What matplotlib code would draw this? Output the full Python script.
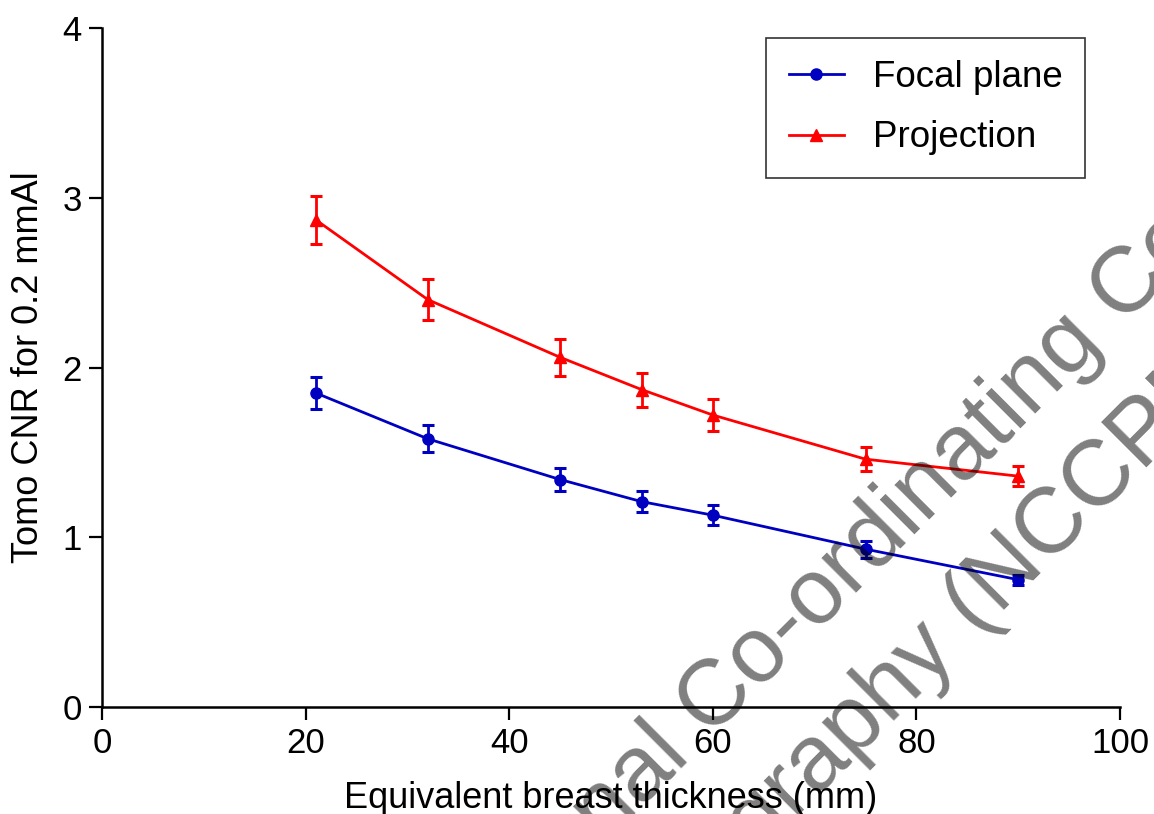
import matplotlib
matplotlib.use("Agg")
import matplotlib.pyplot as plt
import numpy as np

plt.rcParams['font.family'] = ['Liberation Sans', 'DejaVu Sans']

# breast thickness (mm)
thickness = [21, 32, 45, 53, 60, 75, 90]

# Tomo CNR, focal plane and projection, with error bar half-widths
focal = [1.85, 1.58, 1.34, 1.21, 1.13, 0.93, 0.75]
focal_err = [0.095, 0.08, 0.07, 0.06, 0.06, 0.05, 0.03]
proj = [2.87, 2.40, 2.06, 1.87, 1.72, 1.46, 1.36]
proj_err = [0.14, 0.12, 0.11, 0.10, 0.095, 0.07, 0.06]

xticks = [0, 20, 40, 60, 80, 100]
yticks = [0, 1, 2, 3, 4]

W, H = 1154, 814
fig = plt.figure(figsize=(W / 100, H / 100), dpi=100)
ax = fig.add_axes([102 / W, 1 - 707 / H, (1120 - 102) / W, (707 - 28) / H])

blue = '#0000C0'
red = '#FF0000'

ax.errorbar(thickness, focal, yerr=focal_err, color=blue, marker='o', markersize=8,
            linewidth=2.0, elinewidth=2.0, capsize=4.5, capthick=2.2, label='Focal plane')
ax.errorbar(thickness, proj, yerr=proj_err, color=red, marker='^', markersize=8.5,
            linewidth=2.0, elinewidth=2.0, capsize=4.5, capthick=2.2, label='Projection')

ax.set_xlim(0, 100)
ax.set_ylim(0, 4)
ax.set_xticks(xticks)
ax.set_yticks(yticks)
ax.spines['top'].set_visible(False)
ax.spines['right'].set_visible(False)
for s in ['left', 'bottom']:
    ax.spines[s].set_linewidth(1.8)
ax.tick_params(direction='out', length=9.5, width=1.6, labelsize=25, pad=5)

ax.set_xlabel('Equivalent breast thickness (mm)', fontsize=26, labelpad=15)
ax.set_ylabel('Tomo CNR for 0.2 mmAl', fontsize=26, labelpad=12)

handles, labels = ax.get_legend_handles_labels()
handles = [h[0] for h in handles]
leg = fig.legend(handles, labels, loc='upper right', bbox_to_anchor=(1085 / W, 1 - 38 / H),
                 fontsize=26.5, frameon=True, fancybox=False, numpoints=1,
                 handlelength=1.5, handletextpad=0.8, borderpad=0.6,
                 labelspacing=0.69, borderaxespad=0)
leg.get_frame().set_edgecolor('black')
leg.get_frame().set_linewidth(1.2)

# watermark
def px(x, y):
    return x / W, 1 - y / H

wm = dict(fontsize=67, color='black', alpha=0.5, rotation=45, rotation_mode='anchor',
          ha='left', va='center', zorder=10)
fig.text(*px(434, 982), 'National Co-ordinating Centre for the Physics of', **wm)
fig.text(*px(504, 1077), 'Mammography (NCCPM)', **wm)

fig.savefig('out.png', dpi=100)
